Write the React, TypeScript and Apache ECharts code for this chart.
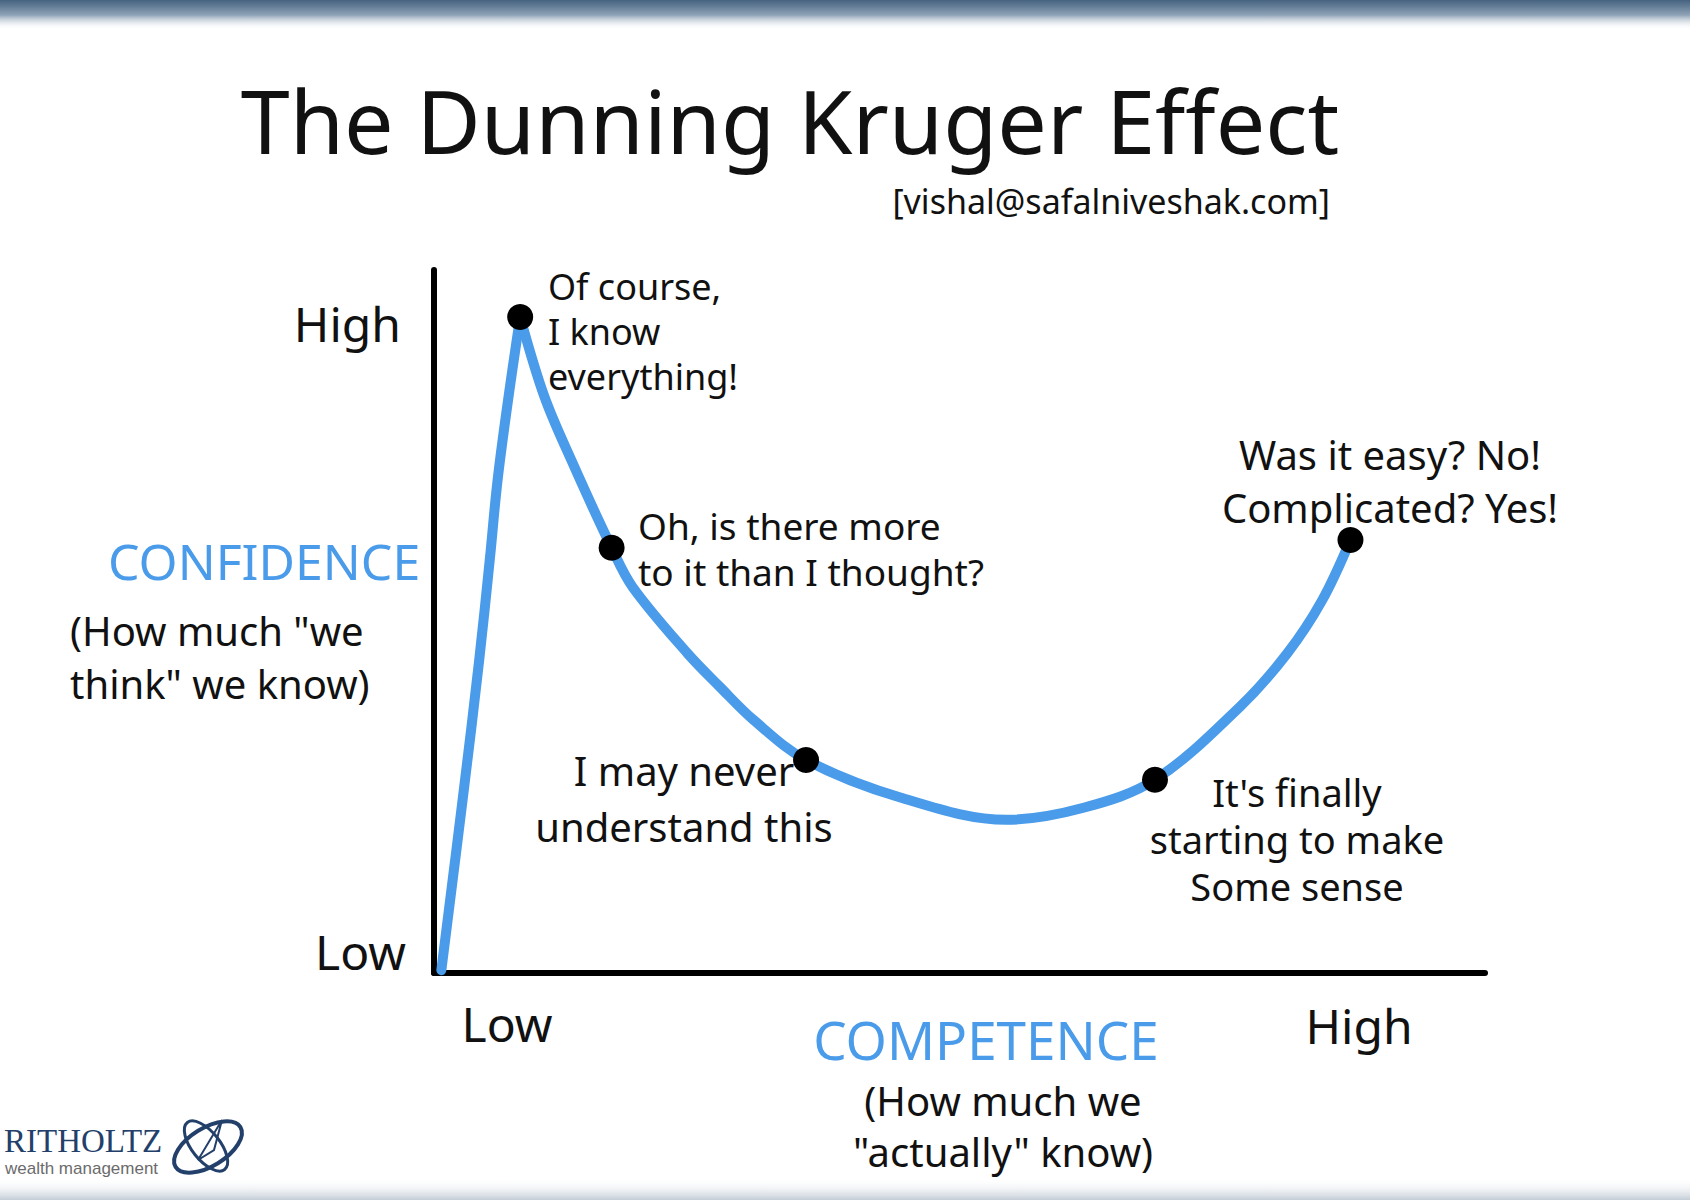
import React, { useEffect, useRef } from "react";
import * as echarts from "echarts";

// ---------- data ----------
const titleText = "The Dunning Kruger Effect";
const creditText = "[vishal@safalniveshak.com]";
const yAxisName = "CONFIDENCE";
const yAxisSub = ['(How much "we', 'think" we know)'];
const xAxisName = "COMPETENCE";
const xAxisSub = ["(How much we", '"actually" know)'];
const yTickLabels = ["Low", "High"];
const xTickLabels = ["Low", "High"];

// curve (competence, confidence) on a 0-100 scale
const risePath = [
  [0.7, 0.4], [2.8, 25.6], [4.3, 44.5], [5.3, 58.7], [6.2, 72.0], [8.2, 93.3],
];
const fallPath = [
  [8.2, 93.3], [10.5, 82.0], [13.2, 72.5], [16.9, 60.5], [18.9, 54.9], [24.1, 45.5],
  [27.2, 40.7], [30.4, 36.0], [35.4, 30.3], [44.3, 25.0], [54.5, 21.8], [61.8, 23.5],
  [68.6, 27.5], [76.7, 37.9], [81.2, 45.5], [84.5, 53.0], [87.2, 61.6],
];
const stagePoints = [
  [8.2, 93.3], [16.9, 60.5], [35.4, 30.3], [68.6, 27.5], [87.2, 61.6],
];
const stageNotes = [
  ["Of course,", "I know", "everything!"],
  ["Oh, is there more", "to it than I thought?"],
  ["I may never", "understand this"],
  ["It's finally", "starting to make", "Some sense"],
  ["Was it easy? No!", "Complicated? Yes!"],
];

// ---------- layout / style ----------
const BLUE = "#4A9BE9";
const INK = "#111111";
const FONT = "'Noto Sans', 'DejaVu Sans', sans-serif";
const NAVY = "#23406b";

// anchor x, centre y, alignment, font size, line height for each note block (pixels)
const noteLayout: [number, number, string, number, number][] = [
  [548, 331, "left", 36, 45],
  [638, 548, "left", 37, 46],
  [684, 798, "center", 40, 56],
  [1297, 839, "center", 38, 47],
  [1390, 481, "center", 40, 53],
];

const txt = (
  text: string,
  x: number,
  y: number,
  size: number,
  align: string = "left",
  fill: string = INK,
  family: string = FONT,
  lineHeight?: number
) => ({
  type: "text",
  x,
  y,
  z: 10,
  style: {
    text,
    fontSize: size,
    fontFamily: family,
    fill,
    lineHeight: lineHeight || Math.round(size * 1.15),
    textAlign: align,
    textVerticalAlign: "middle",
    align,
    verticalAlign: "middle",
  },
});

function buildGraphic() {
  const g: any[] = [];
  // top band
  g.push({
    type: "rect",
    shape: { x: 0, y: 0, width: 1690, height: 30 },
    style: {
      fill: new echarts.graphic.LinearGradient(0, 0, 0, 1, [
        { offset: 0, color: "#45627f" },
        { offset: 0.5, color: "#8ea2b6" },
        { offset: 1, color: "rgba(255,255,255,0)" },
      ]),
    },
    z: 1,
  });
  // bottom band
  g.push({
    type: "rect",
    shape: { x: 0, y: 1178, width: 1690, height: 22 },
    style: {
      fill: new echarts.graphic.LinearGradient(0, 0, 0, 1, [
        { offset: 0, color: "rgba(255,255,255,0)" },
        { offset: 1, color: "#c3ccd6" },
      ]),
    },
    z: 1,
  });
  // title + credit
  g.push(txt(titleText, 790, 120, 88, "center", INK, FONT, 92));
  g.push(txt(creditText, 1330, 201, 34, "right", INK, FONT, 36));
  // axis tick labels
  g.push(txt(yTickLabels[1], 401, 323, 48, "right"));
  g.push(txt(yTickLabels[0], 406, 951, 48, "right"));
  g.push(txt(xTickLabels[0], 507, 1023, 48, "center"));
  g.push(txt(xTickLabels[1], 1359, 1025, 48, "center"));
  // axis names
  g.push(txt(yAxisName, 108, 561, 50, "left", BLUE));
  g.push(txt(yAxisSub.join("\n"), 70, 657, 40, "left", INK, FONT, 53));
  g.push(txt(xAxisName, 986, 1039, 53, "center", BLUE));
  g.push(txt(xAxisSub.join("\n"), 1003, 1126, 40, "center", INK, FONT, 51));
  // stage notes
  stageNotes.forEach((lines, i) => {
    const [x, y, align, size, lh] = noteLayout[i];
    g.push(txt(lines.join("\n"), x, y, size, align, INK, FONT, lh));
  });
  // logo
  g.push(txt("RITHOLTZ", 4, 1141, 33, "left", NAVY, "'Liberation Serif', 'DejaVu Serif', serif", 30));
  g.push(txt("wealth management", 5, 1168, 17, "left", "#6b6b6b", "'Liberation Sans', sans-serif", 18));
  g.push({
    type: "ellipse",
    x: 208,
    y: 1147,
    rotation: 0.55,
    shape: { cx: 0, cy: 0, rx: 38, ry: 19 },
    style: { fill: "none", stroke: NAVY, lineWidth: 4 },
    z: 10,
  });
  g.push({
    type: "ellipse",
    x: 206,
    y: 1146,
    rotation: -0.9,
    shape: { cx: 0, cy: 0, rx: 30, ry: 14 },
    style: { fill: "none", stroke: NAVY, lineWidth: 3 },
    z: 10,
  });
  g.push({
    type: "polygon",
    shape: { points: [[198, 1160], [222, 1120], [214, 1150]] },
    style: { fill: "none", stroke: NAVY, lineWidth: 2 },
    z: 10,
  });
  return g;
}

export default function App() {
  const ref = useRef<HTMLDivElement>(null);
  useEffect(() => {
    document.body.style.margin = "0";
    const chart = echarts.init(ref.current!, null, { renderer: "svg" });
    const axisCommon = {
      type: "value",
      min: 0,
      max: 100,
      axisLine: { show: true, onZero: false, lineStyle: { color: "#000", width: 6 } },
      axisTick: { show: false },
      axisLabel: { show: false },
      splitLine: { show: false },
    };
    chart.setOption({
      animation: false,
      backgroundColor: "#ffffff",
      grid: { left: 434, top: 270, width: 1051, height: 703, containLabel: false },
      xAxis: { ...axisCommon },
      yAxis: { ...axisCommon },
      series: [
        {
          type: "line",
          name: "rise",
          data: risePath,
          smooth: 0.4,
          symbol: "none",
          lineStyle: { color: BLUE, width: 10, cap: "round", join: "round" },
          z: 3,
        },
        {
          type: "line",
          name: "fall",
          data: fallPath,
          smooth: 0.35,
          symbol: "none",
          lineStyle: { color: BLUE, width: 10, cap: "round", join: "round" },
          z: 3,
        },
        {
          type: "scatter",
          name: "stages",
          data: stagePoints,
          symbol: "circle",
          symbolSize: 26,
          itemStyle: { color: "#000", opacity: 1 },
          z: 5,
        },
      ],
      graphic: buildGraphic(),
    });
    return () => chart.dispose();
  }, []);
  return (
    <div
      ref={ref}
      style={{ position: "absolute", left: 0, top: 0, width: 1690, height: 1200, background: "#fff" }}
    />
  );
}
